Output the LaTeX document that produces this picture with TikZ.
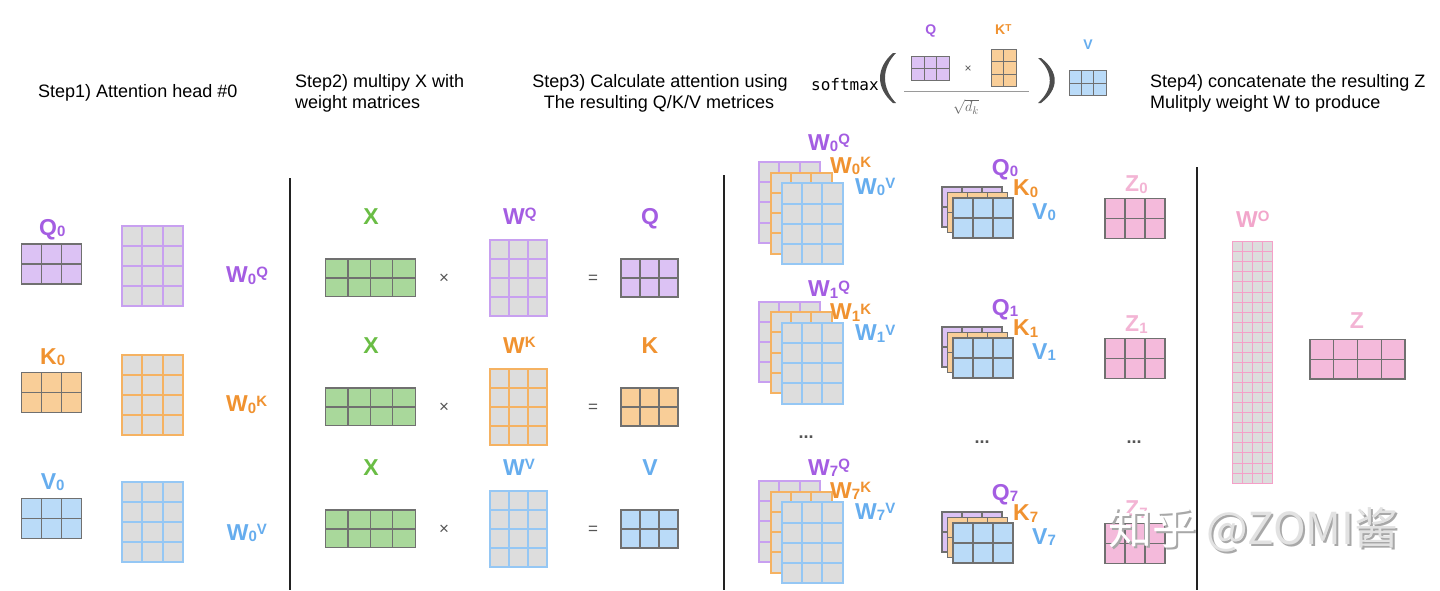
\documentclass[tikz,border=0pt]{standalone}
\usepackage{fontspec}
\setmainfont{Liberation Sans}
\setmonofont{DejaVu Sans Mono}
\newfontfamily\cjkfont{Noto Sans CJK SC}
\definecolor{pL}{HTML}{A45DE2}
\definecolor{pF}{HTML}{DCC2F4}
\definecolor{pB}{HTML}{C8A0F0}
\definecolor{oL}{HTML}{F09230}
\definecolor{oF}{HTML}{F9CE98}
\definecolor{oB}{HTML}{F5B262}
\definecolor{bL}{HTML}{66ADEE}
\definecolor{bF}{HTML}{BADBF8}
\definecolor{bB}{HTML}{95C7F4}
\definecolor{gL}{HTML}{6ABD45}
\definecolor{gF}{HTML}{A9D89B}
\definecolor{kL}{HTML}{F3B4D4}
\definecolor{kW}{HTML}{F2A6CB}
\definecolor{kF}{HTML}{F4BADB}
\definecolor{kB}{HTML}{F4A0C8}
\definecolor{cellG}{HTML}{DDDDDD}
\definecolor{edge}{HTML}{707070}
\definecolor{opc}{HTML}{555555}
\definecolor{parc}{HTML}{4D4D4D}
\definecolor{fracc}{HTML}{9A9A9A}
\definecolor{sqc}{HTML}{666666}
\definecolor{divc}{HTML}{222222}
\definecolor{wmS}{HTML}{A8A8A8}
\definecolor{wmF}{HTML}{E2E2E2}
\newcommand\gm[9]{%
  \fill[#7] ({#1},{#2}) rectangle ({#1+#3*#5},{#2+#4*#6});
  \foreach \i in {0,...,#3}{\draw[#8,line width=#9,line cap=rect] ({#1+\i*#5},{#2}) -- ({#1+\i*#5},{#2+#4*#6});}
  \foreach \j in {0,...,#4}{\draw[#8,line width=#9,line cap=rect] ({#1},{#2+\j*#6}) -- ({#1+#3*#5},{#2+\j*#6});}
}
\newcommand\sbx[1]{\raisebox{-1.5pt}{\fontsize{15}{15}\selectfont #1}}
\newcommand\spx[1]{\raisebox{5.5pt}{\fontsize{15}{15}\selectfont #1}}
\tikzset{
  lbl/.style={inner sep=0pt, anchor=base west, font=\fontsize{23}{23}\selectfont\bfseries},
  ttl/.style={inner sep=0pt, anchor=base west, font=\fontsize{18}{18}\selectfont},
  opsym/.style={inner sep=0pt, text=opc, font=\fontsize{17}{17}\selectfont},
  dotsym/.style={inner sep=0pt, anchor=base, text=opc, font=\fontsize{18}{18}\selectfont\bfseries},
  small/.style={inner sep=0pt, font=\fontsize{14}{14}\selectfont\bfseries},
}
% step 2 row: #1 dy, #2 letter, #3 fill, #4 border, #5 label colour
\newcommand\srow[5]{%
  \node[lbl,anchor=base,text=gL] (x#2) at (371,{224.5+#1}) {X};
  \gm{325.7}{259+#1}{4}{2}{22.35}{18.9}{gF}{edge}{1.2pt}
  \node[opsym] (t#2) at (444,{279+#1}) {×};
  \node[lbl,text=#5] (w#2) at (503,{224+#1}) {W\spx{#2}};
  \gm{490}{240+#1}{3}{4}{19}{19}{cellG}{#4}{2pt}
  \node[opsym] (e#2) at (593,{279+#1}) {=};
  \node[lbl,anchor=base,text=#5] (r#2) at (650,{224+#1}) {#2};
  \gm{621}{259+#1}{3}{2}{19}{19}{#3}{edge}{1.2pt}
}
% step 3 weight stack: #1 matrix dy, #2 label dy, #3 index
\newcommand\wst[3]{%
  \gm{759}{162+#1}{3}{4}{20.3}{20.2}{cellG}{pB}{2pt}
  \gm{770.7}{172.7+#1}{3}{4}{20.3}{20.2}{cellG}{oB}{2pt}
  \gm{781.7}{183.3+#1}{3}{4}{20.3}{20.2}{cellG}{bB}{2pt}
  \node[lbl,text=pL] (wq#3) at (808,{150+#2}) {W\sbx{#3}\spx{Q}};
  \node[lbl,text=oL] (wk#3) at (830,{173.3+#2}) {W\sbx{#3}\spx{K}};
  \node[lbl,text=bL] (wv#3) at (855,{194+#2}) {W\sbx{#3}\spx{V}};
}
% step 3 qkv + z: #1 dy, #2 index
\newcommand\qst[2]{%
  \gm{942}{187+#1}{3}{2}{20}{20}{pF}{edge}{1.2pt}
  \gm{947.5}{192.5+#1}{3}{2}{20}{20}{oF}{edge}{1.2pt}
  \gm{953}{198+#1}{3}{2}{20}{20}{bF}{edge}{1.2pt}
  \node[lbl,text=pL] (q#2) at (991.7,{175+#1}) {Q\sbx{#2}};
  \node[lbl,text=oL] (k#2) at (1013,{195.7+#1}) {K\sbx{#2}};
  \node[lbl,text=bL] (v#2) at (1032,{219+#1}) {V\sbx{#2}};
  \node[lbl,text=kL] (z#2) at (1125,{191.7+#1}) {Z\sbx{#2}};
  \gm{1105}{198.3+#1}{3}{2}{20}{20}{kF}{edge}{1.2pt}
}
\begin{document}
\begin{tikzpicture}[x=1pt,y=-1pt]
\useasboundingbox (0,0) rectangle (1440,590);
\fill[white] (0,0) rectangle (1440,590);

% titles
\node[ttl] (s1) at (38,97.5) {Step1) Attention head \#0};
\node[ttl] (s2a) at (295,87) {Step2) multipy X with};
\node[ttl] (s2b) at (295,108) {weight matrices};
\node[ttl,anchor=base] (s3a) at (660,87) {Step3) Calculate attention using};
\node[ttl,anchor=base] (s3b) at (659,108) {The resulting Q/K/V metrices};
\node[ttl] (s4a) at (1150,87) {Step4) concatenate the resulting Z};
\node[ttl] (s4b) at (1150,108) {Mulitply weight W to produce};

% softmax formula
\node[inner sep=0pt, anchor=base west, font=\ttfamily\fontsize{16}{16}\selectfont] (smx) at (811,90) {softmax};
\fill[parc] (893,53) .. controls (875.7,68) and (875.7,88) .. (893,103) -- (896,103) .. controls (881.3,88) and (881.3,68) .. (896,53) -- cycle;
\fill[parc] (1041,58) .. controls (1059.3,72) and (1059.3,89) .. (1041,103) -- (1038,103) .. controls (1053.7,89) and (1053.7,72) .. (1038,58) -- cycle;
\node[small,anchor=base,text=pL] (sq) at (930.7,34.5) {Q};
\gm{911.7}{56}{3}{2}{12.4}{12.1}{pF}{edge}{0.8pt}
\node[opsym,font=\fontsize{12}{12}\selectfont] (sx) at (968,69) {×};
\node[small,anchor=base west,text=oL] (sk) at (995,34.5) {K\raisebox{3.5pt}{\fontsize{10}{10}\selectfont T}};
\gm{991}{49}{2}{3}{12.5}{12.5}{oF}{edge}{0.8pt}
\draw[fracc,line width=1pt] (904,91.7) -- (1028.7,91.7);
\node[inner sep=0pt,text=sqc,font=\fontsize{15}{15}\selectfont] (sd) at (966,107) {$\sqrt{d_k}$};
\node[small,anchor=base,text=bL] (sv) at (1088,49.5) {V};
\gm{1069}{70.7}{3}{2}{12.3}{12.2}{bF}{edge}{0.8pt}

% step 1
\gm{21.5}{244}{3}{2}{20}{20}{pF}{edge}{1.2pt}
\gm{21.5}{372.5}{3}{2}{20}{19.8}{oF}{edge}{1.2pt}
\gm{21.5}{498.7}{3}{2}{20}{19.8}{bF}{edge}{1.2pt}
\gm{122}{226}{3}{4}{20.4}{20}{cellG}{pB}{2pt}
\gm{122}{355}{3}{4}{20.4}{20}{cellG}{oB}{2pt}
\gm{122}{482.3}{3}{4}{20.4}{20}{cellG}{bB}{2pt}
\node[lbl,text=pL] (q0a) at (39,235) {Q\sbx{0}};
\node[lbl,text=oL] (k0a) at (40,364) {K\sbx{0}};
\node[lbl,text=bL] (v0a) at (40.7,489) {V\sbx{0}};
\node[lbl,text=pL] (w0qa) at (226,282.7) {W\sbx{0}\spx{Q}};
\node[lbl,text=oL] (w0ka) at (226,411.7) {W\sbx{0}\spx{K}};
\node[lbl,text=bL] (w0va) at (226.7,540) {W\sbx{0}\spx{V}};

% step 2
\srow{0}{Q}{pF}{pB}{pL}
\srow{129}{K}{oF}{oB}{oL}
\srow{251}{V}{bF}{bB}{bL}

% step 3
\wst{0}{0}{0}
\wst{139.5}{146.5}{1}
\wst{319}{325}{7}
\qst{0}{0}
\qst{140}{1}
\qst{325}{7}
\node[dotsym] (d1) at (806,438.5) {...};
\node[dotsym] (d2) at (982,443.5) {...};
\node[dotsym] (d3) at (1134,443.5) {...};

% step 4
\node[lbl,text=kW] (wo) at (1236,227) {W\spx{O}};
\gm{1232}{241.7}{4}{24}{10.2}{10.06}{cellG}{kB}{1pt}
\node[lbl,anchor=base,text=kL] (zz) at (1357,328) {Z};
\gm{1310}{339.3}{4}{2}{23.75}{19.85}{kF}{edge}{1.2pt}

% dividers
\draw[divc,line width=2pt] (290,178) -- (290,590);
\draw[divc,line width=2pt] (724,175) -- (724,590);
\draw[divc,line width=2pt] (1197,167) -- (1197,590);

% watermark
\node[anchor=west,inner sep=0pt,font=\cjkfont\fontsize{44}{44}\selectfont,text=wmS] (wms) at (1110,532) {知乎 @ZOMI酱};
\node[anchor=west,inner sep=0pt,font=\cjkfont\fontsize{44}{44}\selectfont] (wm) at (1108,530) {\textcolor{white}{知乎} \textcolor{wmF}{@ZOMI酱}};
\end{tikzpicture}
\end{document}
